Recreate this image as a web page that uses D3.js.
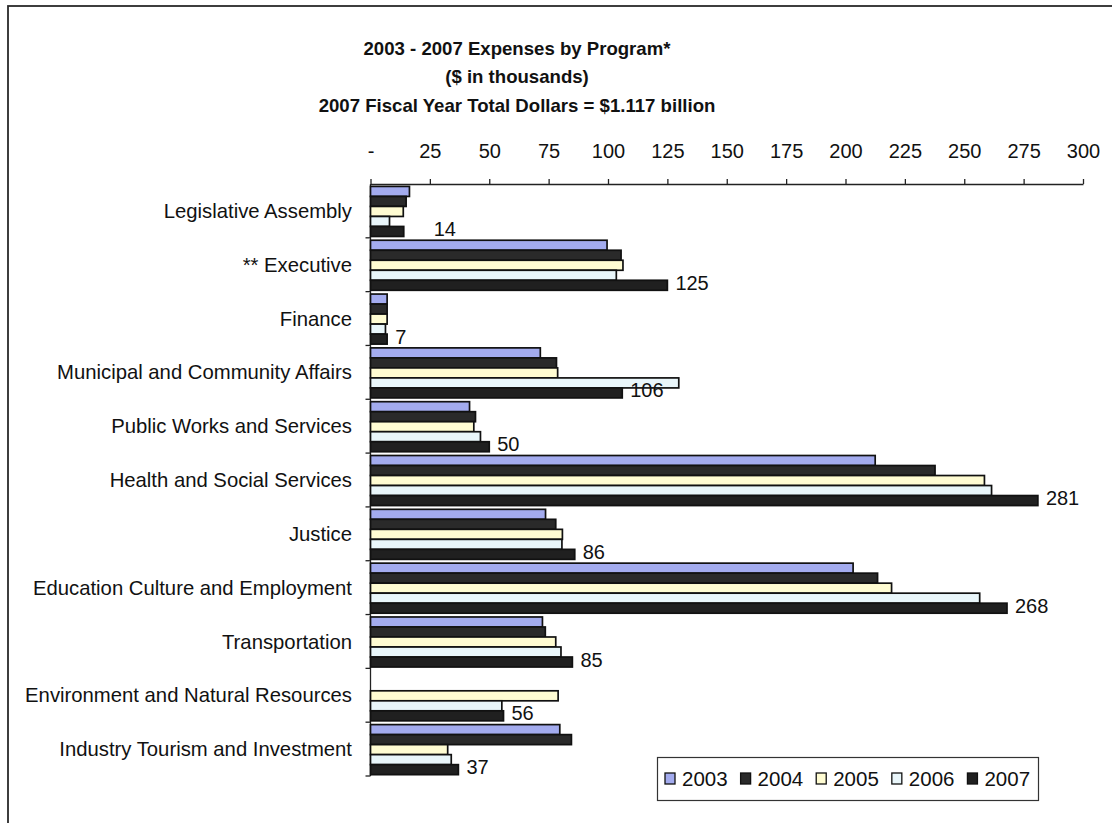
<!DOCTYPE html>
<html>
<head>
<meta charset="utf-8">
<script src="https://cdn.jsdelivr.net/npm/d3@7/dist/d3.min.js"></script>
<style>
  html, body { margin: 0; padding: 0; background: #fff; }
  svg { display: block; }
  text { font-family: "Liberation Sans", Arial, sans-serif; fill: #111; }
</style>
</head>
<body>
<svg id="chart" width="1112" height="823"></svg>
<script>
// Program expense data ($ thousands), fiscal years 2003-2007
const categories = [
  "Legislative Assembly",
  "** Executive",
  "Finance",
  "Municipal and Community Affairs",
  "Public Works and Services",
  "Health and Social Services",
  "Justice",
  "Education Culture and Employment",
  "Transportation",
  "Environment and Natural Resources",
  "Industry Tourism and Investment"
];
const years = ["2003", "2004", "2005", "2006", "2007"];
const values2003 = [16.4, 99.6, 7, 71.5, 41.7, 212.5, 73.7, 203.2, 72.4, null, 79.7];
const values2004 = [15, 105.5, 7, 78.3, 44.2, 237.7, 78, 213.5, 73.6, null, 84.6];
const values2005 = [13.8, 106.3, 7, 78.8, 43.5, 258.5, 80.8, 219.4, 78, 79, 32.5];
const values2006 = [8, 103.5, 6.3, 129.8, 46.3, 261.5, 80.6, 256.5, 80.2, 55.3, 34];
const values2007 = [14, 125, 7, 106, 50, 281, 86, 268, 85, 56, 37];
const xTickValues = [0, 25, 50, 75, 100, 125, 150, 175, 200, 225, 250, 275, 300];
const titleLines = [
  "2003 - 2007 Expenses by Program*",
  "($ in thousands)",
  "2007 Fiscal Year Total Dollars = $1.117 billion"
];

const seriesValues = [values2003, values2004, values2005, values2006, values2007];
const colors = ["#a3abee", "#2a2a2a", "#fffcd2", "#e9f6fa", "#202020"];

const svg = d3.select("#chart");

// outer frame (right and bottom edges run past the page)
svg.append("rect")
  .attr("x", 8).attr("y", 6).attr("width", 1300).attr("height", 1000)
  .attr("fill", "#fff").attr("stroke", "#2a2a2a").attr("stroke-width", 1.8);

// title
svg.append("g").selectAll("text").data(titleLines).join("text")
  .attr("x", 517)
  .attr("y", (d, i) => 55 + i * 28.3)
  .attr("text-anchor", "middle")
  .style("font-size", "18.6px")
  .style("font-weight", "bold")
  .text(d => d);

const x = d3.scaleLinear().domain([0, 300]).range([370.5, 1083]);
const y = d3.scaleBand().domain(categories).range([184, 776]).padding(0);
const ySeries = d3.scaleBand().domain(years)
  .range([y.bandwidth() * 0.045, y.bandwidth() * 0.975]).padding(0);

// top value axis
const xAxis = d3.axisTop(x)
  .tickValues(xTickValues)
  .tickFormat(d => d === 0 ? "-" : d)
  .tickSize(5)
  .tickSizeOuter(0)
  .tickPadding(21);
const gx = svg.append("g").attr("transform", "translate(0,184)").call(xAxis);
gx.select(".domain").attr("stroke", "#222").attr("stroke-width", 1.3);
gx.selectAll(".tick line").attr("stroke", "#222").attr("stroke-width", 1.3);
gx.selectAll(".tick text")
  .style("font-size", "20px")
  .style("font-family", "'Liberation Sans', Arial, sans-serif")
  .attr("fill", "#111");

// category axis: line with ticks at band boundaries
const gy = svg.append("g");
gy.append("line")
  .attr("x1", x(0)).attr("x2", x(0))
  .attr("y1", y.range()[0]).attr("y2", y.range()[1])
  .attr("stroke", "#222").attr("stroke-width", 1.3);
const boundaries = categories.map(c => y(c)).concat([y.range()[1]]);
gy.selectAll("line.tk").data(boundaries.slice(1)).join("line")
  .attr("class", "tk")
  .attr("x1", x(0) - 5).attr("x2", x(0))
  .attr("y1", d => d).attr("y2", d => d)
  .attr("stroke", "#222").attr("stroke-width", 1.3);
gy.selectAll("text").data(categories).join("text")
  .attr("x", 352)
  .attr("y", d => y(d) + y.bandwidth() / 2)
  .attr("dy", "0.35em")
  .attr("text-anchor", "end")
  .style("font-size", "20.3px")
  .text(d => d);

// bars
const barData = [];
categories.forEach((c, ci) => {
  years.forEach((yr, si) => {
    const v = seriesValues[si][ci];
    if (v !== null) barData.push({ c, yr, si, v });
  });
});
svg.append("g").selectAll("rect").data(barData).join("rect")
  .attr("x", x(0))
  .attr("y", d => y(d.c) + ySeries(d.yr))
  .attr("width", d => x(d.v) - x(0))
  .attr("height", ySeries.bandwidth())
  .attr("fill", d => colors[d.si])
  .attr("stroke", "#111")
  .attr("stroke-width", 1.7);

// 2007 value labels
const labelNudge = { "Legislative Assembly": 22 };
svg.append("g").selectAll("text").data(categories).join("text")
  .attr("x", (c, i) => x(values2007[i]) + 8 + (labelNudge[c] || 0))
  .attr("y", c => y(c) + ySeries("2007") + ySeries.bandwidth() / 2 - 2.5)
  .attr("dy", "0.35em")
  .style("font-size", "20px")
  .text((c, i) => d3.format(".0f")(values2007[i]));

// legend
const lg = svg.append("g");
lg.append("rect")
  .attr("x", 657.5).attr("y", 757.5).attr("width", 381).attr("height", 43)
  .attr("fill", "#fff").attr("stroke", "#333").attr("stroke-width", 1.2);
let lx = 665;
years.forEach((yr, i) => {
  lg.append("rect")
    .attr("x", lx).attr("y", 773).attr("width", 10).attr("height", 11)
    .attr("fill", colors[i]).attr("stroke", "#111").attr("stroke-width", 1.3);
  const t = lg.append("text")
    .attr("x", lx + 17).attr("y", 778.5).attr("dy", "0.35em")
    .style("font-size", "20.5px")
    .text(yr);
  lx += 17 + t.node().getComputedTextLength() + 13;
});
</script>
</body>
</html>
